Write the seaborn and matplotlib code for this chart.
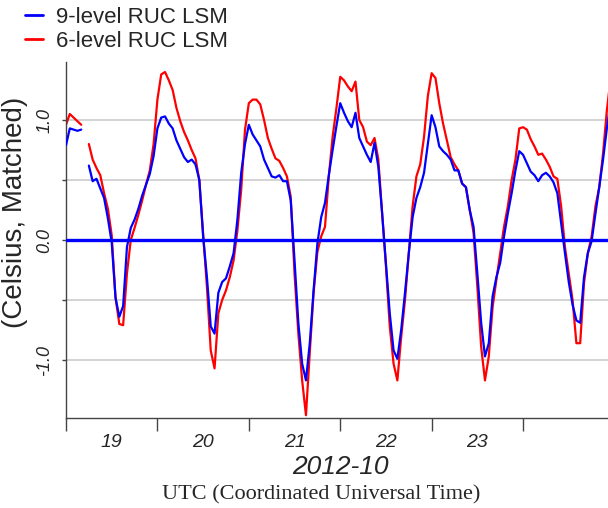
import numpy as np
import pandas as pd
import matplotlib
matplotlib.use("Agg")
import matplotlib.pyplot as plt
from matplotlib.lines import Line2D
import seaborn as sns

nan = np.nan

# ---- data (hourly values, Oct 19 00 UTC onward) ----
start = "2012-10-19 00:00"
day_labels = ["19", "20", "21", "22", "23"]
series_names = ["9-level RUC LSM", "6-level RUC LSM"]
y_tick_values = [-1.0, -0.5, 0.0, 0.5, 1.0]
y_tick_labels = ["-1.0", "", "0.0", "", "1.0"]

nine_19 = [0.79, 0.93, 0.92, 0.91, 0.92, nan, 0.62, 0.49, 0.51, 0.43, 0.35, 0.18,
           -0.02, -0.48, -0.64, -0.55, -0.06, 0.10, 0.17, 0.26, 0.37, 0.46, 0.55, 0.70]
nine_20 = [0.93, 1.02, 1.03, 0.97, 0.93, 0.83, 0.76, 0.69, 0.65, 0.67, 0.63, 0.50,
           0.03, -0.31, -0.72, -0.78, -0.44, -0.35, -0.32, -0.22, -0.11, 0.17, 0.56, 0.80]
nine_21 = [0.96, 0.88, 0.83, 0.78, 0.67, 0.60, 0.53, 0.52, 0.54, 0.49, 0.49, 0.33,
           -0.17, -0.69, -1.03, -1.17, -0.86, -0.42, -0.03, 0.19, 0.31, 0.54, 0.75, 0.95]
nine_22 = [1.14, 1.06, 0.99, 0.94, 1.06, 0.85, 0.78, 0.71, 0.65, 0.81, 0.61, 0.22,
           -0.19, -0.61, -0.92, -0.99, -0.75, -0.44, -0.11, 0.19, 0.35, 0.44, 0.56, 0.80]
nine_23 = [1.04, 0.94, 0.78, 0.74, 0.71, 0.67, 0.58, 0.58, 0.47, 0.44, 0.25, 0.11,
           -0.28, -0.69, -0.97, -0.86, -0.47, -0.31, -0.19, 0.03, 0.22, 0.39, 0.58, 0.74]
nine_24 = [0.71, 0.64, 0.57, 0.54, 0.49, 0.54, 0.56, 0.53, 0.48, 0.39, 0.14, -0.11,
           -0.35, -0.54, -0.67, -0.69, -0.31, -0.11, -0.01, 0.22, 0.44, 0.67, 0.93, 1.15]

six_19 = [0.96, 1.05, 1.02, 0.99, 0.96, nan, 0.80, 0.67, 0.60, 0.54, 0.39, 0.26,
          0.04, -0.48, -0.70, -0.71, -0.28, 0.00, 0.10, 0.21, 0.33, 0.46, 0.58, 0.80]
six_20 = [1.17, 1.38, 1.40, 1.33, 1.25, 1.10, 0.99, 0.90, 0.83, 0.75, 0.68, 0.50,
          0.06, -0.39, -0.92, -1.07, -0.61, -0.50, -0.42, -0.31, -0.17, 0.08, 0.42, 0.92]
six_21 = [1.14, 1.17, 1.17, 1.13, 1.00, 0.85, 0.76, 0.68, 0.66, 0.60, 0.53, 0.36,
          -0.28, -0.78, -1.17, -1.46, -0.94, -0.44, -0.10, 0.03, 0.11, 0.53, 0.86, 1.10]
six_22 = [1.36, 1.33, 1.28, 1.24, 1.32, 1.00, 0.94, 0.82, 0.79, 0.85, 0.67, 0.22,
          -0.22, -0.72, -1.03, -1.17, -0.81, -0.50, -0.11, 0.28, 0.53, 0.63, 0.86, 1.20]
six_23 = [1.39, 1.35, 1.14, 0.97, 0.83, 0.69, 0.63, 0.58, 0.47, 0.44, 0.25, 0.06,
          -0.39, -0.89, -1.17, -0.97, -0.56, -0.33, -0.11, 0.11, 0.28, 0.50, 0.67, 0.93]
six_24 = [0.94, 0.92, 0.84, 0.78, 0.71, 0.72, 0.67, 0.61, 0.53, 0.51, 0.28, -0.06,
          -0.28, -0.50, -0.86, -0.86, -0.36, -0.11, 0.03, 0.28, 0.44, 0.72, 1.08, 1.35]

nine_level = nine_19 + nine_20 + nine_21 + nine_22 + nine_23 + nine_24
six_level = six_19 + six_20 + six_21 + six_22 + six_23 + six_24
times = pd.date_range(start, periods=len(nine_level), freq="h")

frames = []
for name, vals in zip(series_names, [nine_level, six_level]):
    d = pd.DataFrame({"time": times, "value": vals, "series": name})
    d["seg"] = d["value"].isna().cumsum()
    frames.append(d)
df = pd.concat(frames, ignore_index=True)

# ---- styling ----
sns.set_theme(style="white")
plt.rcParams["font.family"] = ["Liberation Sans", "DejaVu Sans"]

W, H = 608, 508
fig = plt.figure(figsize=(W / 100, H / 100), dpi=100)
ax = fig.add_axes([66 / W, 1 - 417.6 / H, (W - 66) / W, (417.6 - 62.4) / H])

BLUE = "#0000ff"
RED = "#ff0000"

sns.lineplot(data=df[df["series"] == series_names[1]], x="time", y="value",
             units="seg", estimator=None, color=RED, lw=1.6, ax=ax, zorder=2)
sns.lineplot(data=df[df["series"] == series_names[0]], x="time", y="value",
             units="seg", estimator=None, color=BLUE, lw=1.6, ax=ax, zorder=3)
ax.axhline(0.0, color=BLUE, lw=2.4, zorder=4)

t0 = pd.Timestamp(start)
ax.set_xlim(t0, t0 + pd.Timedelta(hours=142.3))
ax.set_ylim(-1.48, 1.48)

ax.set_yticks(y_tick_values)
ax.set_yticklabels(y_tick_labels, rotation=90, va="center", fontsize=13, style="italic")
ax.yaxis.grid(True, color="#cccccc", lw=1.2)
ax.xaxis.grid(False)
ax.set_axisbelow(True)

major = pd.date_range(t0, periods=6, freq="D")
minor = [t0 + pd.Timedelta(hours=12 + 24 * i) for i in range(len(day_labels))]
ax.set_xticks(major)
ax.set_xticklabels([""] * len(major))
ax.set_xticks(minor, minor=True)
ax.set_xticklabels(day_labels, minor=True, fontsize=14, style="italic")

ax.tick_params(axis="x", which="major", direction="out", length=9.5, width=1,
               color="#444444", bottom=True)
ax.tick_params(axis="x", which="minor", length=0, pad=11.5, bottom=True)
ax.tick_params(axis="y", direction="out", length=3, width=1, color="#444444",
               pad=6, left=True)

for s in ["top", "right"]:
    ax.spines[s].set_visible(False)
for s in ["left", "bottom"]:
    ax.spines[s].set_color("#444444")
    ax.spines[s].set_linewidth(1.0)

ax.set_xlabel("")
ax.set_ylabel("")
if ax.get_legend() is not None:
    ax.get_legend().remove()

fig.text(15 / W, 1 - 212 / H, "(Celsius, Matched)", rotation=90, ha="center",
         va="center", fontsize=20)
fig.text(340 / W, 1 - 467 / H, "2012-10", ha="center", va="center",
         fontsize=19, style="italic")
fig.text(321 / W, 1 - 495 / H, "UTC (Coordinated Universal Time)", ha="center",
         va="center", fontsize=16, family=["Liberation Serif", "DejaVu Serif"])

handles = [Line2D([], [], color=BLUE, lw=2), Line2D([], [], color=RED, lw=2)]
fig.legend(handles, series_names, loc="upper left", bbox_to_anchor=(25 / W, 1 - 7 / H),
           frameon=False, fontsize=16, handlelength=0.8, handletextpad=0.6,
           labelspacing=0.12, borderpad=0, borderaxespad=0)

fig.savefig("out.png", dpi=100)
